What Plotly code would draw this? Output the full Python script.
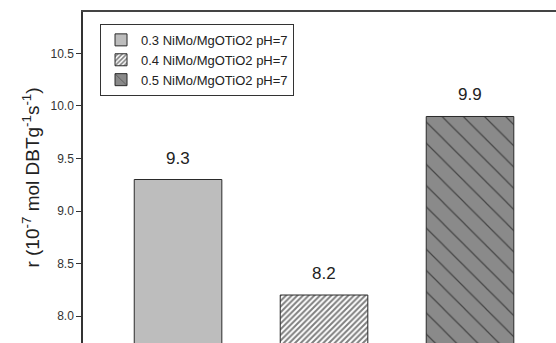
import plotly.graph_objects as go

# Catalyst series and measured HDS rates
labels = ["0.3 NiMo/MgOTiO2 pH=7", "0.4 NiMo/MgOTiO2 pH=7", "0.5 NiMo/MgOTiO2 pH=7"]
rates = [9.3, 8.2, 9.9]
rate_text = ["9.3", "8.2", "9.9"]
tick_vals = [8.0, 8.5, 9.0, 9.5, 10.0, 10.5]
tick_text = ["8.0", "8.5", "9.0", "9.5", "10.0", "10.5"]

fills = ["#bdbdbd", "#ffffff", "#8a8a8a"]
shapes = ["", "/", "\\"]
pattern_sizes = [8, 4, 15]
solidities = [0.2, 0.5, 0.08]

FONT = "Arial, Liberation Sans, sans-serif"

fig = go.Figure()
for lab, val, fc, sh, ps, so in zip(labels, rates, fills, shapes, pattern_sizes, solidities):
    fig.add_trace(go.Bar(
        x=[lab], y=[val], name=lab, width=0.6,
        marker=dict(
            color=fc,
            line=dict(color="#2a2a2a", width=1),
            pattern=dict(shape=sh, size=ps, solidity=so, fgcolor="#000000",
                         bgcolor=fc, fillmode="overlay"),
        ),
    ))

for lab, val, txt in zip(labels, rates, rate_text):
    fig.add_annotation(x=lab, y=val, text=txt, showarrow=False,
                       yanchor="bottom", yshift=10,
                       font=dict(family=FONT, size=17, color="#222222"))

fig.update_layout(
    width=556, height=343,
    margin=dict(l=83, r=0, t=12, b=0),
    paper_bgcolor="white", plot_bgcolor="white",
    barmode="overlay",
    font=dict(family=FONT, color="#333333"),
    showlegend=True,
    legend=dict(
        x=0.036, y=0.964, xanchor="left", yanchor="top",
        bordercolor="#333333", borderwidth=1, bgcolor="white",
        font=dict(family=FONT, size=13, color="#222222"),
        tracegroupgap=0, itemwidth=30,
    ),
)
fig.update_xaxes(
    type="category", side="top", range=[-0.651, 2.589],
    showline=True, linecolor="#444444", linewidth=1.5,
    showticklabels=False, ticks="", showgrid=False, zeroline=False,
)
fig.update_yaxes(
    range=[7.743, 10.895],
    tickvals=tick_vals, ticktext=tick_text,
    ticks="outside", ticklen=5, tickcolor="#333333", tickwidth=1,
    showline=True, linecolor="#333333", linewidth=1.5,
    showgrid=False, zeroline=False,
    tickfont=dict(family=FONT, size=12, color="#333333"),
    title=dict(text="r (10<sup>-7</sup> mol DBTg<sup>-1</sup>s<sup>-1</sup>)",
               font=dict(family=FONT, size=19, color="#222222"), standoff=6),
)

fig.write_html("out.html")
